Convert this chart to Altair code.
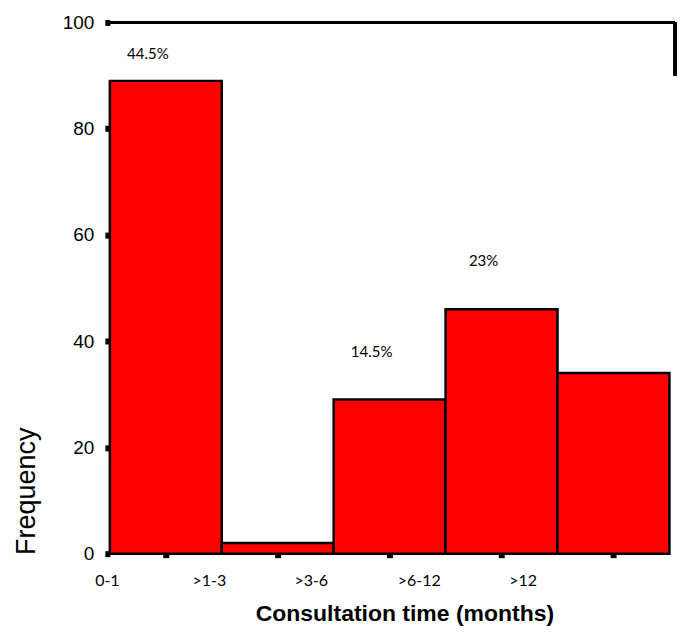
import altair as alt
import pandas as pd

# ---- data ----
categories = ["0-1", ">1-3", ">3-6", ">6-12", ">12"]
counts = [89, 2, 29, 46, 34]
pct_labels = ["44.5%", "", "14.5%", "23%", ""]
y_ticks = [0, 20, 40, 60, 80, 100]

X_MAX = 5.05      # right end of the plot frame (in bar units)
Y_MAX = 100
FRAME_DROP = 90   # the right frame stub ends here

df = pd.DataFrame({
    "category": categories,
    "count": counts,
    "pct": pct_labels,
    "idx": list(range(len(categories))),
})
df["start"] = df["idx"]
df["end"] = df["idx"] + 1
df["mid"] = df["idx"] + 0.5

label_list = "[" + ",".join("'" + c + "'" for c in categories) + "]"
label_offsets = [-59, -69, -79, -83, -91]
offset_cond = {
    "condition": [
        {"test": f"datum.value < {i + 1}", "value": off}
        for i, off in enumerate(label_offsets[:-1])
    ],
    "value": label_offsets[-1],
}

xscale = alt.Scale(domain=[0, X_MAX], nice=False, zero=False)
yscale = alt.Scale(domain=[0, Y_MAX], nice=False)

x_axis = alt.Axis(
    values=[i + 0.5 for i in range(len(categories))],
    labelExpr=f"{label_list}[floor(datum.value)]",
    labelOffset=offset_cond,
    labelFont="Lato", labelFontSize=16, labelColor="black",
    labelPadding=15, labelFlush=False, labelOverlap=False,
    domain=False, grid=False,
    ticks=True, tickSize=4, tickWidth=6, tickColor="black",
    title="Consultation time (months)",
    titleFont="Liberation Sans", titleFontSize=23, titleFontWeight="bold",
    titleColor="black", titleX=295, titleY=67,
    titleAlign="center", titleBaseline="alphabetic",
)

y_axis = alt.Axis(
    values=y_ticks,
    labelFont="Liberation Sans", labelFontSize=19, labelColor="black",
    labelPadding=11,
    domain=False, grid=False,
    ticks=True, tickSize=5, tickWidth=6, tickColor="black",
    title="Frequency",
    titleFont="Liberation Sans", titleFontSize=27, titleFontWeight="normal",
    titleColor="black", titleX=-83, titleY=469, titleAngle=270,
    titleAlign="center", titleBaseline="middle",
)

base = alt.Chart(df)

bars = base.mark_rect(fill="#FF0000", stroke="black", strokeWidth=2.5).encode(
    x=alt.X("start:Q", scale=xscale, axis=x_axis),
    x2="end:Q",
    y=alt.Y("count:Q", scale=yscale, axis=y_axis),
    y2=alt.datum(0),
)

texts = base.transform_filter(
    "datum.pct != ''"
).transform_calculate(
    label_y="min(datum.count + 9, 94)"
).mark_text(font="Lato", fontSize=15, color="black", dx=-18, baseline="middle").encode(
    x=alt.X("mid:Q"),
    y=alt.Y("label_y:Q"),
    text="pct:N",
)

top_rule = base.mark_rule(color="black", strokeWidth=3).encode(
    x=alt.datum(0), x2=alt.datum(X_MAX), y=alt.datum(Y_MAX)
)
right_rule = base.mark_rule(color="black", strokeWidth=3).encode(
    x=alt.datum(X_MAX), y=alt.datum(Y_MAX), y2=alt.datum(FRAME_DROP)
)

chart = alt.layer(bars, texts, top_rule, right_rule).properties(
    width=566, height=532,
    background="white",
    padding={"left": 5, "top": 5, "right": 0, "bottom": 5},
).configure_view(stroke=None)

chart.save("out.html", embed_options={"renderer": "svg", "actions": False})
